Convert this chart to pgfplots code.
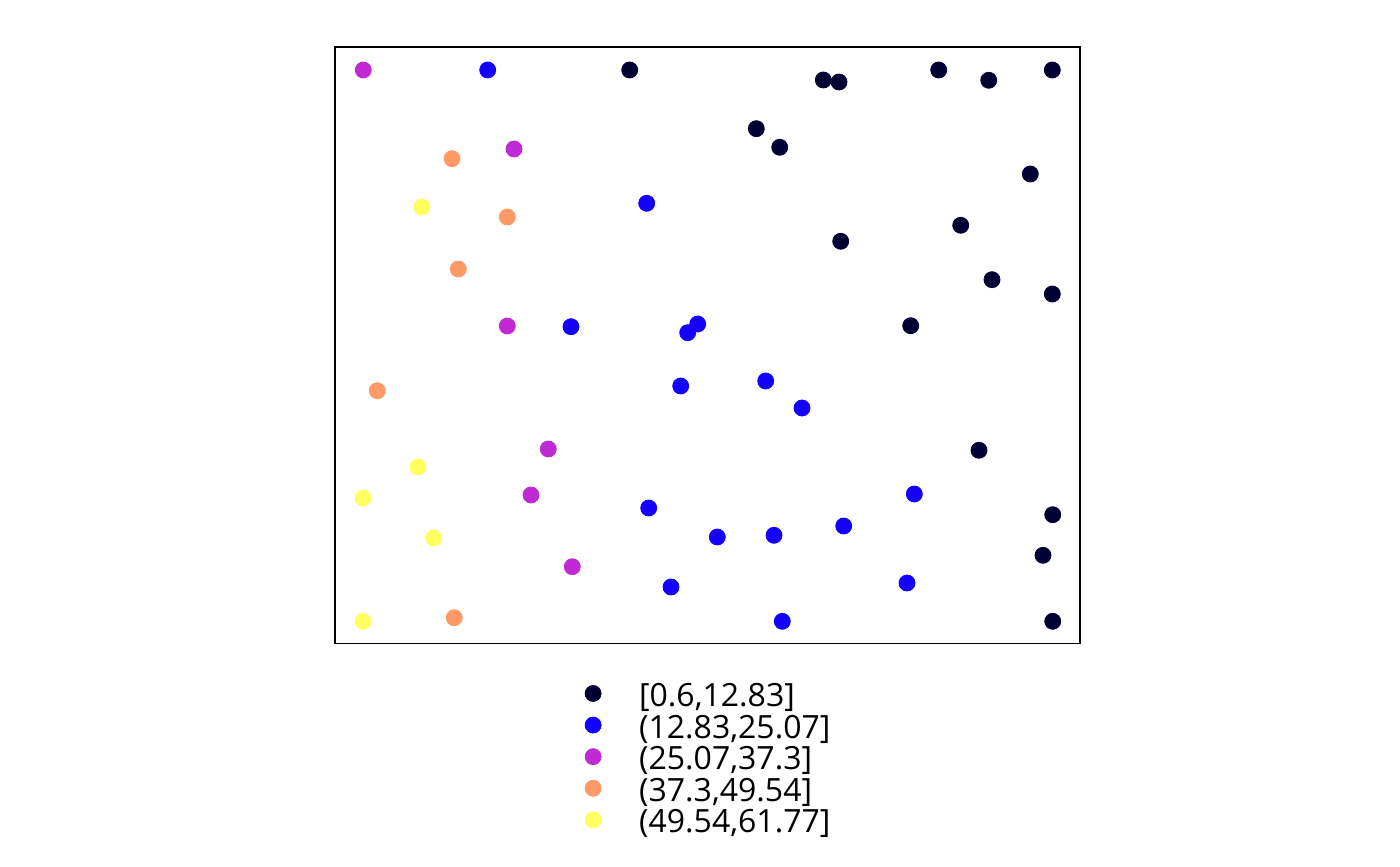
\documentclass[border=0pt]{standalone}
\usepackage{pgfplots}
\pgfplotsset{compat=1.18}
\usepackage{fontspec}
\setmainfont{Open Sans}
\definecolor{c1}{HTML}{000033}
\definecolor{c2}{HTML}{1400FF}
\definecolor{c3}{HTML}{C02AD5}
\definecolor{c4}{HTML}{FF9966}
\definecolor{c5}{HTML}{FFFF60}
\begin{document}
\begin{tikzpicture}
\useasboundingbox[fill=white] (-167.5pt,-111.25pt) rectangle (532.5pt,321.75pt);
\begin{axis}[
  at={(0pt,0pt)}, anchor=south west,
  scale only axis, width=372.5pt, height=298.25pt,
  xmin=335, xmax=1080, ymin=-643.5, ymax=-47,
  xtick=\empty, ytick=\empty,
  axis line style={black, line width=0.6pt},
  clip=false,
  legend style={draw=none, fill=none, inner sep=0pt, outer sep=0pt,
    at={(rel axis cs:0.3352,-0.0601)}, anchor=north west,
    font=\fontsize{16}{16}\selectfont, row sep=-1.3pt},
  legend cell align=left,
  legend image code/.code={\draw[#1] plot coordinates {(4pt,1.5pt)}; \path (0pt,0pt) (24.8pt,0pt);},
]
\addplot[only marks, mark=*, mark size=4pt, draw=c1, fill=c1] coordinates {
(629.7,-70) (823.3,-80) (839,-82) (938.7,-70) (988.7,-80.3) (1052.3,-70)
(756.3,-128.7) (779.7,-147.3) (1030.3,-174) (960.7,-225.3) (840.7,-241.3)
(992,-279.7) (1052.3,-294) (910.7,-325.7) (979,-450.3) (1052.7,-514.7)
(1043,-555.3) (1052.7,-621.3)
};
\addlegendentry{[0.6,12.83]}
\addplot[only marks, mark=*, mark size=4pt, draw=c2, fill=c2] coordinates {
(487.7,-70) (646.7,-203.3) (571,-326.7) (697.7,-324) (687.7,-332.7)
(680.7,-386) (765.7,-381) (802,-408) (914.3,-494) (648.7,-508)
(717.3,-537) (774,-535.3) (843.7,-526) (671,-587) (907,-583) (782.3,-621.3)
};
\addlegendentry{(12.83,25.07]}
\addplot[only marks, mark=*, mark size=4pt, draw=c3, fill=c3] coordinates {
(363.3,-70) (514,-149) (507.3,-326) (548.3,-449) (531,-495) (572.3,-566.7)
};
\addlegendentry{(25.07,37.3]}
\addplot[only marks, mark=*, mark size=4pt, draw=c4, fill=c4] coordinates {
(452,-158.7) (507.3,-217) (458.3,-269) (377.3,-390.7) (454.3,-617.7)
};
\addlegendentry{(37.3,49.54]}
\addplot[only marks, mark=*, mark size=4pt, draw=c5, fill=c5] coordinates {
(422,-207) (418,-467) (363,-498) (433.7,-538) (363,-621.3)
};
\addlegendentry{(49.54,61.77]}
\end{axis}
\end{tikzpicture}
\end{document}
